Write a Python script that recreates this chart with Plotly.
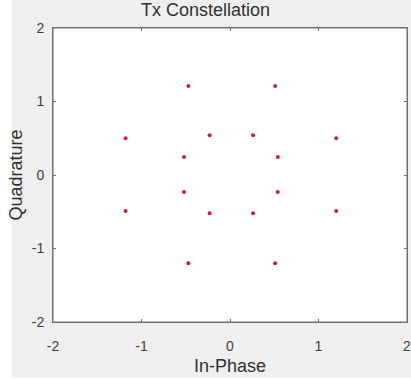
import plotly.graph_objects as go

in_phase = [-0.47, 0.51, -1.18, 1.20, -0.23, 0.26, -0.52, 0.54,
            -0.52, 0.54, -1.18, -0.23, 0.26, 1.20, -0.47, 0.51]
quadrature = [1.21, 1.21, 0.50, 0.50, 0.54, 0.54, 0.245, 0.245,
              -0.23, -0.23, -0.49, -0.52, -0.52, -0.49, -1.20, -1.20]
x_ticks = [-2, -1, 0, 1, 2]
y_ticks = [-2, -1, 0, 1, 2]

FONT = "Liberation Sans, Arial"

fig = go.Figure()
fig.add_trace(go.Scatter(
    x=in_phase, y=quadrature, mode="markers",
    marker=dict(size=4, color="#d01c38", line=dict(width=0)),
    showlegend=False, hoverinfo="skip"))

axis_common = dict(
    showgrid=False, zeroline=False, showline=True, linecolor="#707070",
    linewidth=1, mirror="ticks", ticks="inside", ticklen=3, tickcolor="#707070",
    tickfont=dict(family=FONT, size=14, color="#404040"),
    automargin=False, ticklabeloverflow="allow",
)

fig.update_layout(
    width=411, height=380,
    margin=dict(l=53, r=4, t=28, b=58),
    paper_bgcolor="#efefef", plot_bgcolor="white",
    title=dict(text="Tx Constellation", x=0.5, xanchor="center", y=0.974, yanchor="middle",
               font=dict(family=FONT, size=18, color="#303030")),
    xaxis=dict(range=[-2, 2], tickvals=x_ticks, ticktext=[str(v) for v in x_ticks],
               ticklabelstandoff=11,
               title=dict(text="In-Phase", standoff=6,
                          font=dict(family=FONT, size=18, color="#303030")),
               **axis_common),
    yaxis=dict(range=[-2, 2], tickvals=y_ticks, ticktext=[str(v) for v in y_ticks],
               ticklabelstandoff=5,
               title=dict(text="Quadrature", standoff=4,
                          font=dict(family=FONT, size=18, color="#303030")),
               **axis_common),
    shapes=[
        dict(type="rect", xref="paper", yref="paper", x0=-53/354, x1=-41/354,
             y0=-0.3, y1=1.2, fillcolor="white", line=dict(width=0), layer="below"),
        dict(type="rect", xref="paper", yref="paper", x0=-0.3, x1=1.2,
             y0=-0.3, y1=-56/294, fillcolor="white", line=dict(width=0), layer="below"),
        dict(type="rect", xref="paper", yref="paper", x0=0, x1=1, y0=0, y1=1,
             line=dict(color="#707070", width=1), fillcolor="rgba(0,0,0,0)", layer="above"),
    ],
)

fig.write_html("out.html")
